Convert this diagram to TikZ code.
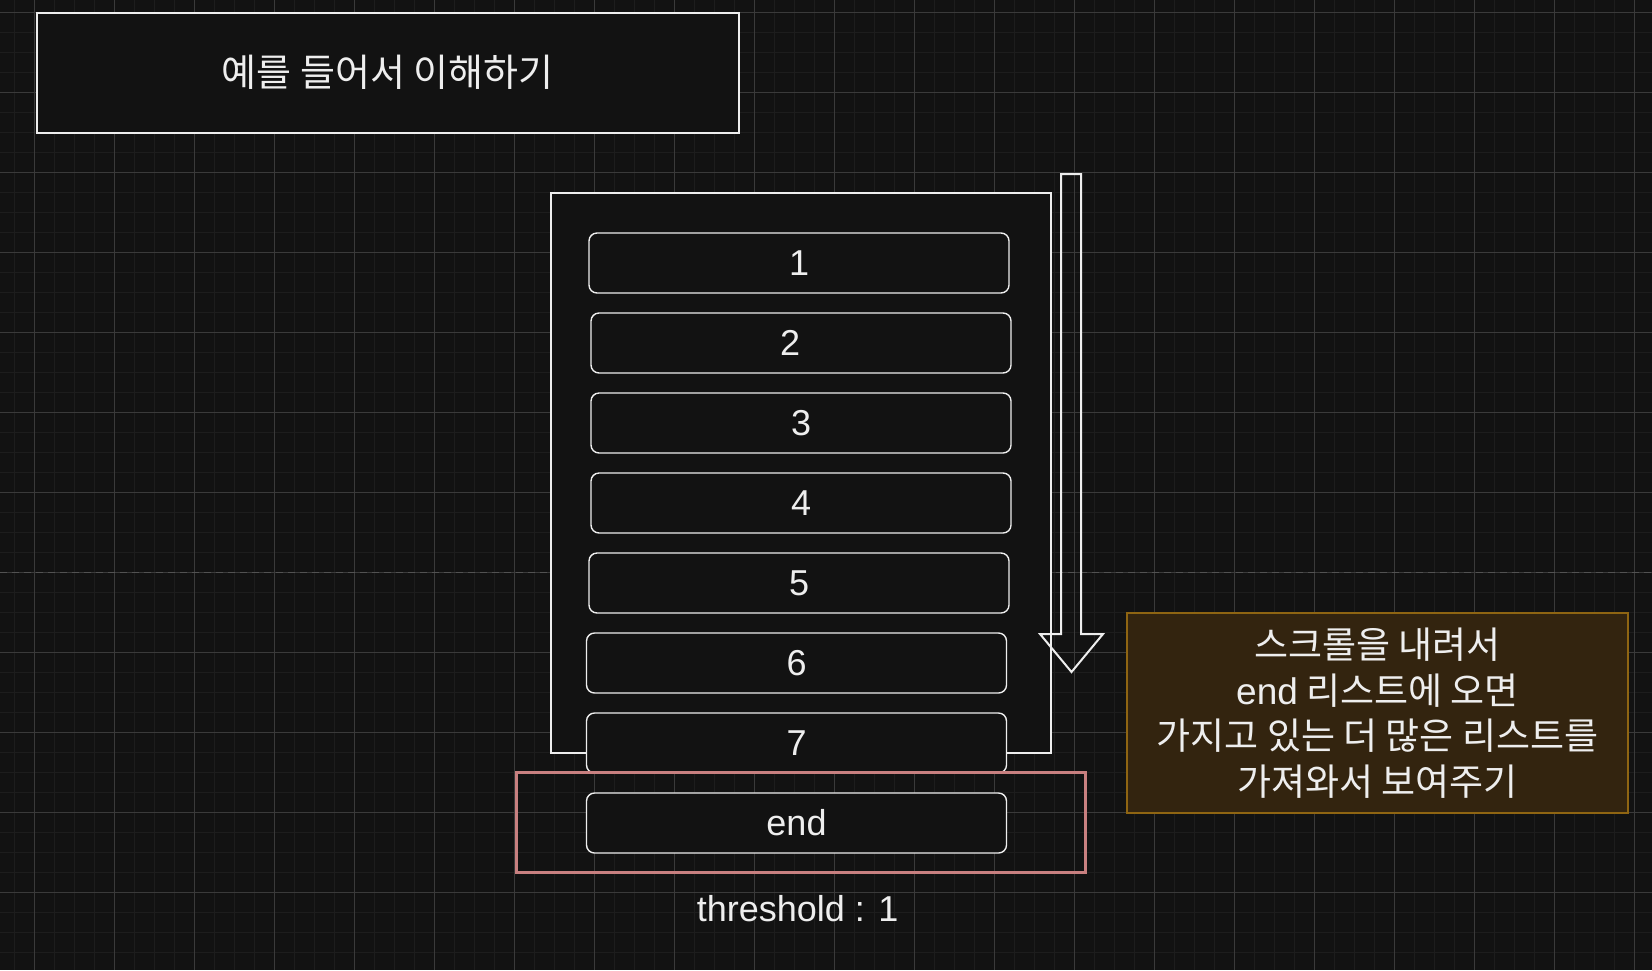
\documentclass[tikz,border=0pt]{standalone}
\usepackage{fontspec}
\setmainfont{Liberation Sans}
\newfontfamily\kr{Noto Sans CJK KR}
\usepackage{tikz}
\usetikzlibrary{positioning}
\definecolor{canvas}{HTML}{121212}
\definecolor{minorgrid}{HTML}{1D1D1D}
\definecolor{majorgrid}{HTML}{3A3A3A}
\definecolor{pagebreak}{HTML}{525252}
\definecolor{ink}{HTML}{EEEEEE}
\definecolor{alert}{HTML}{C88080}
\definecolor{notefill}{HTML}{33240F}
\definecolor{noteline}{HTML}{8F6512}
\tikzset{
  listitem/.style={draw=ink,fill=canvas,rounded corners=4pt,line width=0.7pt,minimum width=210pt,minimum height=30pt,inner sep=0pt,text=ink,font=\fontsize{18}{21}\selectfont},
}

\begin{document}
\begin{tikzpicture}[x=0.5pt,y=-0.5pt]
  \fill[canvas] (0,0) rectangle (1652,970);
  \useasboundingbox (0,0) rectangle (1652,970);
  % grid
  \foreach \gx in {14.7,34.7,...,1652}{\draw[minorgrid,line width=0.7pt] (\gx,0)--(\gx,970);}
  \foreach \gy in {12.3,32.3,...,970}{\draw[minorgrid,line width=0.7pt] (0,\gy)--(1652,\gy);}
  \foreach \gx in {34.7,114.7,...,1652}{\draw[majorgrid,line width=0.5pt] (\gx,0)--(\gx,970);}
  \foreach \gy in {12.3,92.3,...,970}{\draw[majorgrid,line width=0.5pt] (0,\gy)--(1652,\gy);}
  \draw[pagebreak,line width=0.75pt,dash pattern=on 3.5pt off 2.5pt] (0,572.5)--(1652,572.5);

  \node[draw=ink,fill=canvas,line width=1pt,minimum width=350.8pt,minimum height=60pt,inner sep=0pt,text=ink,font=\kr\fontsize{19}{22}\selectfont] (title) at (387.8,72.7) {예를 들어서 이해하기};

  \node[draw=ink,fill=canvas,line width=0.7pt,minimum width=250pt,minimum height=280pt,inner sep=0pt] (viewport) at (801,473) {};
  \foreach \n/\cx/\cy/\lbl in {1/799/263/1, 2/801/343/{2\kern11pt}, 3/801/423/3, 4/801/503/4, 5/799/583/5, 6/796.5/663/6, 7/796.5/743/7}{\node[listitem] (item\n) at (\cx,\cy) {\lbl};}
  \node[draw=alert,line width=1.5pt,minimum width=284.5pt,minimum height=50pt,inner sep=0pt] (threshzone) at (800.5,822) {};
  \node[listitem] (itemend) at (796.5,823) {end};
  \node[text=ink,font=\fontsize{18}{21}\selectfont] (thresholdlabel) at (797.6,909) {threshold : 1};

  % scroll arrow
  \draw[ink,line width=1pt,line join=miter] (1061,174) -- (1081,174) -- (1081,634) -- (1103,634) -- (1071.5,672) -- (1040,634) -- (1061,634) -- cycle;

  \node[draw=noteline,fill=notefill,line width=1pt,minimum width=250.5pt,minimum height=100pt,inner sep=0pt,align=center,text=ink,font=\kr\fontsize{18.5}{22.8}\selectfont] (note) at (1377.5,713) {스크롤을 내려서\\{\rmfamily end} 리스트에 오면\\가지고 있는 더 많은 리스트를\\가져와서 보여주기};
\end{tikzpicture}
\end{document}
